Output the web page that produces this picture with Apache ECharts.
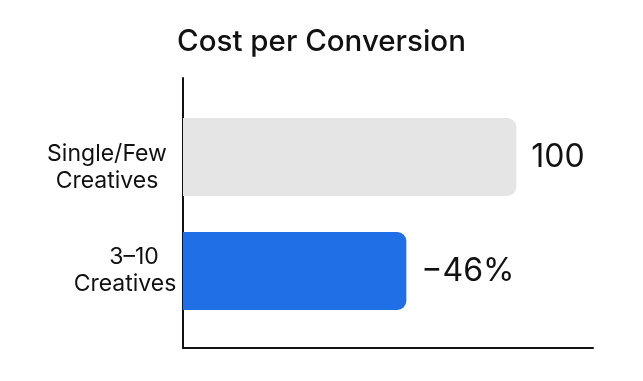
<!DOCTYPE html>
<html>
<head>
<meta charset="utf-8">
<script src="https://cdn.jsdelivr.net/npm/echarts@6/dist/echarts.min.js"></script>
<style>html,body{margin:0;padding:0;background:#fff}#c{width:643px;height:381px}</style>
</head>
<body>
<div id="c"></div>
<script>
const categories = ['Single/Few\nCreatives', '3–10\nCreatives'];
const values = [100, 67];
const valueLabels = ['100', '−46%'];
const barColors = ['#e5e5e5', '#1f6fe6'];
const titleText = 'Cost per Conversion';

const chart = echarts.init(document.getElementById('c'), null, {renderer: 'canvas'});
const font = 'Inter, "Noto Sans", sans-serif';
const L = 183, R = 50;
const txt = {fontFamily: font, fontSize: 23, lineHeight: 27, color: '#111'};
chart.setOption({
  animation: false,
  backgroundColor: '#fff',
  title: {
    text: titleText, left: 'center', top: 22,
    textStyle: {fontFamily: font, fontSize: 29.5, fontWeight: 500, color: '#111'}
  },
  grid: [
    {left: L, right: R, top: 100, bottom: 53},
    {left: L, right: R, top: 78, bottom: 33}
  ],
  xAxis: [
    {gridIndex: 0, type: 'value', min: 0, max: 123, show: false},
    {gridIndex: 1, type: 'value', min: 0, max: 1, axisLine: {show: true, lineStyle: {color: '#111', width: 2}},
     axisTick: {show: false}, axisLabel: {show: false}, splitLine: {show: false}}
  ],
  yAxis: [
    {gridIndex: 0, type: 'category', inverse: true, data: categories,
     axisLine: {show: false}, axisTick: {show: false}, splitLine: {show: false},
     axisLabel: {
       margin: 66, align: 'center', fontFamily: font, fontSize: 23, lineHeight: 27, color: '#111',
       formatter: function (v, i) {
         const parts = v.split('\n');
         return i === 0 ? '{sp| }\n{a|' + parts[0] + '}\n{a|' + parts[1] + '}' : '{b|' + parts[0] + '}\n{c|' + parts[1] + '}';
       },
       rich: {
         sp: {fontFamily: font, fontSize: 10, lineHeight: 22},
         a: Object.assign({}, txt, {padding: [0, 20, 0, 0]}),
         b: Object.assign({}, txt, {padding: [0, 0, 0, 34]}),
         c: Object.assign({}, txt, {padding: [0, 0, 0, 16]})
       }
     }},
    {gridIndex: 1, type: 'value', min: 0, max: 1, axisLine: {show: true, lineStyle: {color: '#111', width: 2}},
     axisTick: {show: false}, axisLabel: {show: false}, splitLine: {show: false}}
  ],
  series: [{
    type: 'bar', xAxisIndex: 0, yAxisIndex: 0, barWidth: 78,
    data: values.map((v, i) => ({value: v, itemStyle: {color: barColors[i], borderRadius: [0, 9, 9, 0]}})),
    label: {
      show: true, position: 'right', distance: 15,
      fontFamily: font, fontSize: 32, color: '#111',
      formatter: p => valueLabels[p.dataIndex]
    }
  }]
});
</script>
</body>
</html>
